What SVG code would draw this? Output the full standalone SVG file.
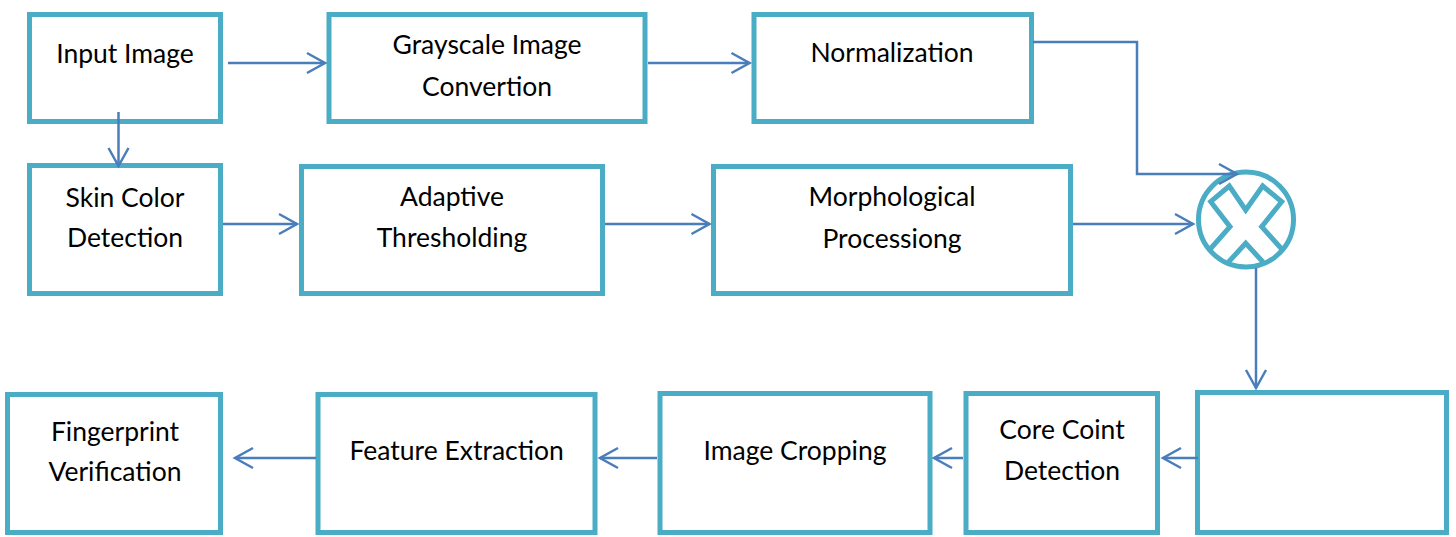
<svg xmlns="http://www.w3.org/2000/svg" width="1456" height="537" viewBox="0 0 1456 537">
  <style>
    .box { fill: #ffffff; stroke: #4BACC6; stroke-width: 5; }
    .lbl { font-family: Lato, "Open Sans", "Liberation Sans", sans-serif; font-size: 26.5px; fill: #000000; text-anchor: middle; }
    .wire { fill: none; stroke: #4A7EBB; stroke-width: 2.5; marker-end: url(#open); }
    .mix { fill: none; stroke: #4BACC6; stroke-width: 5; }
  </style>
  <defs>
    <marker id="open" markerUnits="userSpaceOnUse" markerWidth="24" markerHeight="26" viewBox="-21 -12 24 24" refX="0" refY="0" orient="auto">
      <path d="M-18,-10 L0,0 L-18,10" fill="none" stroke="#4A7EBB" stroke-width="2.5"/>
    </marker>
  </defs>
  <rect width="1456" height="537" fill="#ffffff"/>

  <g id="input-image">
    <rect class="box" x="29.5" y="14.5" width="191" height="107"/>
    <text class="lbl" x="125" y="62.5">Input Image</text>
  </g>
  <g id="grayscale">
    <rect class="box" x="329" y="14.5" width="316" height="107"/>
    <text class="lbl" x="487" y="54">Grayscale Image</text>
    <text class="lbl" x="487" y="96">Convertion</text>
  </g>
  <g id="normalization">
    <rect class="box" x="754" y="14.5" width="277.5" height="107"/>
    <text class="lbl" x="892" y="62">Normalization</text>
  </g>
  <g id="skin-color">
    <rect class="box" x="29.5" y="165.5" width="191" height="128"/>
    <text class="lbl" x="125" y="207">Skin Color</text>
    <text class="lbl" x="125" y="247">Detection</text>
  </g>
  <g id="adaptive-threshold">
    <rect class="box" x="301.5" y="166.5" width="301" height="127"/>
    <text class="lbl" x="452" y="206">Adaptive</text>
    <text class="lbl" x="452" y="247">Thresholding</text>
  </g>
  <g id="morphological">
    <rect class="box" x="713.5" y="166.5" width="357" height="127"/>
    <text class="lbl" x="892" y="205.5">Morphological</text>
    <text class="lbl" x="892" y="247.5">Processiong</text>
  </g>
  <g id="multiply">
    <circle class="mix" cx="1246" cy="219.5" r="47.5"/>
    <path class="mix" stroke-linejoin="miter" d="M1208.5,251 L1230,226.7 L1210.7,201.7 L1229.3,186 L1245.7,210 L1262.7,186 L1281.7,201.7 L1261.7,226.7 L1283.5,251 M1228.5,262 L1245.7,243.3 L1263,262"/>
  </g>
  <g id="empty-stage">
    <rect class="box" x="1197.5" y="392.5" width="249" height="140"/>
  </g>
  <g id="core-point">
    <rect class="box" x="966" y="393.5" width="191.5" height="139"/>
    <text class="lbl" x="1062" y="439">Core Coint</text>
    <text class="lbl" x="1062" y="480">Detection</text>
  </g>
  <g id="image-cropping">
    <rect class="box" x="660" y="393.5" width="270" height="139"/>
    <text class="lbl" x="795" y="460">Image Cropping</text>
  </g>
  <g id="feature-extraction">
    <rect class="box" x="318" y="394.5" width="277" height="138"/>
    <text class="lbl" x="456.7" y="460">Feature Extraction</text>
  </g>
  <g id="fingerprint-verification">
    <rect class="box" x="7.5" y="394.5" width="213" height="138"/>
    <text class="lbl" x="115" y="441">Fingerprint</text>
    <text class="lbl" x="115" y="481">Verification</text>
  </g>

  <g id="connectors">
    <path class="wire" d="M228,63 H325"/>
    <path class="wire" d="M648,63 H749.5"/>
    <path class="wire" d="M1033,42 H1137 V174 H1237"/>
    <path class="wire" d="M118.5,112 V166"/>
    <path class="wire" d="M223,224 H297"/>
    <path class="wire" d="M605,224 H709.5"/>
    <path class="wire" d="M1073,224 H1193"/>
    <path class="wire" d="M1256,268 V388"/>
    <path class="wire" d="M1198,458 H1163"/>
    <path class="wire" d="M963,458 H934"/>
    <path class="wire" d="M657,458 H600"/>
    <path class="wire" d="M316,458 H235"/>
  </g>
</svg>
